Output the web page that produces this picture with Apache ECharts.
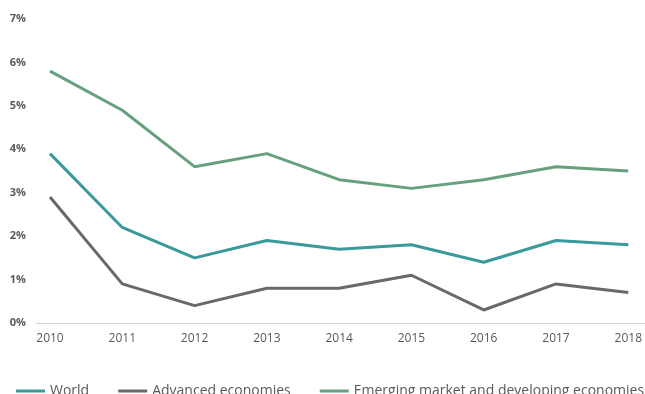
<!DOCTYPE html>
<html>
<head>
<meta charset="utf-8">
<script src="https://cdn.jsdelivr.net/npm/echarts@6/dist/echarts.min.js"></script>
<style>
  html, body { margin: 0; padding: 0; background: #fff; }
  #chart { width: 645px; height: 394px; }
</style>
</head>
<body>
<div id="chart"></div>
<script>
// Annual growth rates, percent
const years = ['2010', '2011', '2012', '2013', '2014', '2015', '2016', '2017', '2018'];
const world = [3.9, 2.2, 1.5, 1.9, 1.7, 1.8, 1.4, 1.9, 1.8];
const advanced = [2.9, 0.9, 0.4, 0.8, 0.8, 1.1, 0.3, 0.9, 0.7];
const emerging = [5.8, 4.9, 3.6, 3.9, 3.3, 3.1, 3.3, 3.6, 3.5];

const seriesNames = ['World', 'Advanced economies', 'Emerging market and developing economies'];
const seriesColors = ['#3a999a', '#696969', '#67a07d'];

const font = '"Open Sans", sans-serif';
const textGrey = '#595959';

const chart = echarts.init(document.getElementById('chart'));

function lineSeries(name, data, color) {
  return {
    name: name,
    type: 'line',
    data: data,
    xAxisIndex: 0,
    yAxisIndex: 0,
    symbol: 'none',
    lineStyle: { width: 3, color: color },
    itemStyle: { color: color }
  };
}

chart.setOption({
  animation: false,
  backgroundColor: '#fff',
  grid: [
    { left: 50, right: 16, top: 19, bottom: 71 },
    // wider baseline strip under the plot
    { left: 36, right: 0, top: 19, bottom: 71 }
  ],
  legend: {
    data: seriesNames,
    left: 16,
    top: 384,
    width: 660,
    padding: 0,
    icon: 'rect',
    itemWidth: 29,
    itemHeight: 3,
    itemGap: 29,
    textStyle: { fontFamily: font, fontSize: 14, color: textGrey }
  },
  xAxis: [
    {
      gridIndex: 0,
      type: 'category',
      data: years,
      boundaryGap: false,
      axisLine: { show: false },
      axisTick: { show: false },
      axisLabel: { margin: 10, fontFamily: font, fontSize: 12, color: textGrey }
    },
    {
      gridIndex: 1,
      type: 'value',
      min: 0,
      max: 1,
      axisLine: { show: true, lineStyle: { color: '#d0d0d0', width: 1 } },
      axisTick: { show: false },
      axisLabel: { show: false },
      splitLine: { show: false }
    }
  ],
  yAxis: [
    {
      gridIndex: 0,
      type: 'value',
      min: 0,
      max: 7,
      interval: 1,
      axisLine: { show: false },
      axisTick: { show: false },
      splitLine: { show: false },
      axisLabel: {
        margin: 24,
        fontFamily: font,
        fontSize: 11,
        fontWeight: 'bold',
        color: textGrey,
        formatter: '{value}%'
      }
    },
    {
      gridIndex: 1,
      type: 'value',
      show: false,
      min: 0,
      max: 1
    }
  ],
  series: [
    lineSeries(seriesNames[0], world, seriesColors[0]),
    lineSeries(seriesNames[1], advanced, seriesColors[1]),
    lineSeries(seriesNames[2], emerging, seriesColors[2])
  ]
});
</script>
</body>
</html>
